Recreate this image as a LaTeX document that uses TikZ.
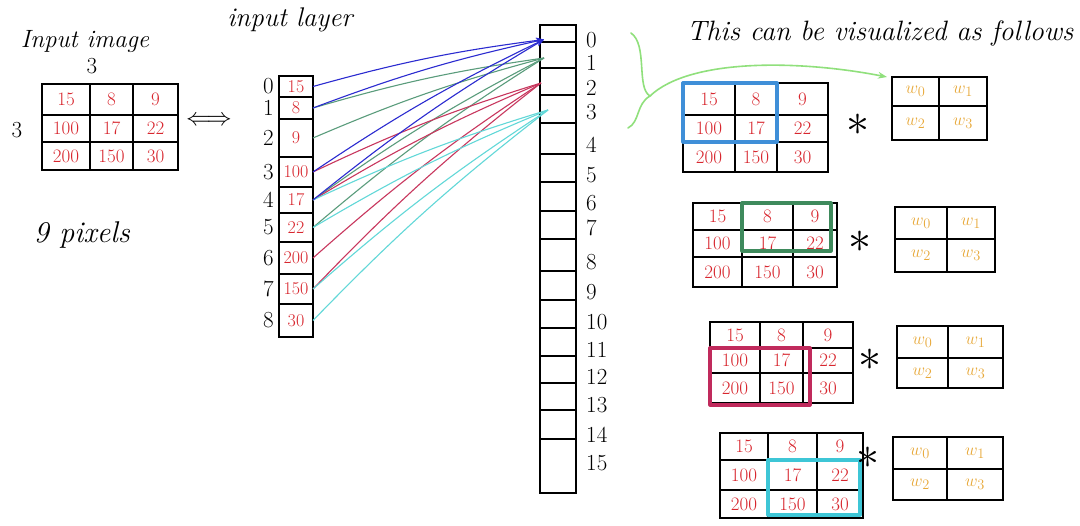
\documentclass[tikz,border=0pt]{standalone}
\usepackage{fontspec}
\usetikzlibrary{calc,arrows.meta}
\definecolor{numred}{HTML}{D8262E}
\definecolor{lblue}{HTML}{2B2BD0}
\definecolor{lgreen}{HTML}{5A9C7C}
\definecolor{lred}{HTML}{C8375E}
\definecolor{lcyan}{HTML}{62D8D8}
\definecolor{hblue}{HTML}{3F8FD8}
\definecolor{hgreen}{HTML}{3E8A5C}
\definecolor{hred}{HTML}{C02A5C}
\definecolor{hcyan}{HTML}{3EC6D6}
\definecolor{brgreen}{HTML}{90E07C}
\definecolor{worange}{HTML}{E8A93A}
\tikzset{
 gridline/.style={line width=1.5pt, black, line cap=round},
 val/.style={text=numred, font=\fontsize{19}{22}\selectfont, inner sep=0pt},
 hand/.style={font=\fontsize{25}{28}\selectfont\itshape, inner sep=0pt},
 idx/.style={font=\fontsize{23}{26}\selectfont, inner sep=0pt},
 incell/.style={draw, line width=1.5pt, minimum width=34pt, inner sep=0pt, outer sep=0pt, text=numred, font=\fontsize{18}{20}\selectfont},
 outcell/.style={draw, line width=1.5pt, minimum width=36pt, inner sep=0pt, outer sep=0pt},
 wlab/.style={text=worange, font=\fontsize{19}{22}\selectfont, inner sep=0pt},
 star/.style={inner sep=0pt},
 con/.style={line width=1.1pt, bend left=4},
 hl/.style={line width=3.2pt, line join=round},
}
\newcommand\bigstar{\scalebox{4.6}{$\ast$}}
\newcommand\pixgrid[9]{%
 \draw[gridline] (#2,#6) rectangle (#5,#9);
 \draw[gridline] (#3,#6) -- (#3,#9) (#4,#6) -- (#4,#9) (#2,#7) -- (#5,#7) (#2,#8) -- (#5,#8);
 \node[val] (#1a) at ({(#2+#3)/2},{(#6+#7)/2}) {15};
 \node[val] (#1b) at ({(#3+#4)/2},{(#6+#7)/2}) {8};
 \node[val] (#1c) at ({(#4+#5)/2},{(#6+#7)/2}) {9};
 \node[val] (#1d) at ({(#2+#3)/2},{(#7+#8)/2}) {100};
 \node[val] (#1e) at ({(#3+#4)/2},{(#7+#8)/2}) {17};
 \node[val] (#1f) at ({(#4+#5)/2},{(#7+#8)/2}) {22};
 \node[val] (#1g) at ({(#2+#3)/2},{(#8+#9)/2}) {200};
 \node[val] (#1h) at ({(#3+#4)/2},{(#8+#9)/2}) {150};
 \node[val] (#1i) at ({(#4+#5)/2},{(#8+#9)/2}) {30};
}
\newcommand\wgrid[7]{%
 \draw[gridline] (#2,#5) rectangle (#4,#7);
 \draw[gridline] (#3,#5) -- (#3,#7) (#2,#6) -- (#4,#6);
 \node[wlab] (#1a) at ({(#2+#3)/2},{(#5+#6)/2}) {$w_0$};
 \node[wlab] (#1b) at ({(#3+#4)/2},{(#5+#6)/2}) {$w_1$};
 \node[wlab] (#1c) at ({(#2+#3)/2},{(#6+#7)/2}) {$w_2$};
 \node[wlab] (#1d) at ({(#3+#4)/2},{(#6+#7)/2}) {$w_3$};
}
\begin{document}
\begin{tikzpicture}[x=1pt,y=-1pt]
\useasboundingbox[fill=white] (0,0) rectangle (1080,526);

% ---- input image
\node[hand] (tin) at (85,42) {Input image};
\node[idx] (th) at (92,66) {3};
\node[idx] (tv) at (17,130) {3};
\node[hand, font=\fontsize{30}{34}\selectfont\itshape] (tpx) at (82,235) {9 pixels};
\pixgrid{p}{42}{90}{133}{178}{84}{115}{142}{170}
\node[font=\fontsize{26}{30}\selectfont, inner sep=0pt] (eq) at (209,121) {$\Longleftrightarrow$};

% ---- input layer
\node[hand, font=\fontsize{27}{30}\selectfont\itshape] (til) at (290,20) {input layer};
\foreach \i/\a/\b/\v in {0/76/97/15, 1/97/119/8, 2/119/157/9, 3/157/187/100, 4/187/213/17, 5/213/242/22, 6/242/274/200, 7/274/304/150, 8/304/337/30}{
  \node[incell, minimum height={(\b-\a)*1pt}] (i\i) at (296,{(\a+\b)/2}) {\v};
  \node[idx, anchor=east] (il\i) at (274,{(\a+\b)/2}) {\i};
}

% ---- output layer
\foreach \i/\a/\b in {0/25/42,1/42/68,2/68/95,3/95/123,4/123/154,5/154/182,6/182/211,7/211/239,8/239/271,9/271/300,10/300/328,11/328/356,12/356/383,13/383/410,14/410/439,15/439/493}{
  \node[outcell, minimum height={(\b-\a)*1pt}] (o\i) at (558,{(\a+\b)/2}) {};
}
\foreach \i/\y in {0/40,1/63,2/88,3/112,4/145,5/175,6/203,7/228,8/262,9/292,10/322,11/350,12/377,13/405,14/435,15/463}{
  \node[idx, anchor=west] (ol\i) at (586,\y) {\i};
}

% ---- connectors
\coordinate (t0) at ($(o0.west)+(4,6)$);
\coordinate (t1) at ($(o1.west)+(4,3)$);
\coordinate (t2) at ($(o2.west)+(1,1.5)$);
\coordinate (t3) at ($(o3.west)+(8,1)$);
\foreach \s in {1,2,4,5}{\draw[con, lgreen] (i\s.east) to (t1);}
\foreach \s in {3,4,6,7}{\draw[con, lred] (i\s.east) to (t2);}
\foreach \s in {4,5,7,8}{\draw[con, lcyan] (i\s.east) to (t3);}
\foreach \s in {0,1,3,4}{\draw[con, lblue, -{Stealth[length=8pt]}] (i\s.east) to (t0);}

% ---- right side
\node[font=\fontsize{28}{32}\selectfont\itshape, inner sep=0pt] (tvis) at (880,34) {This can be visualized as follows};
\coordinate (bt) at (650,96);
\draw[brgreen, line width=1.6pt, line cap=round] (631,33) .. controls (648,45) and (636,88) .. (bt) .. controls (636,104) and (640,122) .. (628,128);

\pixgrid{ga}{683}{735}{777}{828}{83}{115}{142}{172}
\pixgrid{gb}{693}{742}{793}{837}{203}{230}{257}{287}
\pixgrid{gc}{710}{760}{803}{853}{322}{348}{373}{403}
\pixgrid{gd}{720}{768}{817}{863}{433}{460}{490}{518}
\draw[hl, hblue] (683,83) rectangle (777,142);
\draw[hl, hgreen] (742,203) rectangle (831,251);
\draw[hl, hred] (710,348) rectangle (810,405);
\draw[hl, hcyan] (768,460) rectangle (860,515);

\node[star] (s1) at (858,125) {\bigstar};
\node[star] (s2) at (860,242) {\bigstar};
\node[star] (s3) at (870,360) {\bigstar};
\node[star] (s4) at (868,458) {\bigstar};

\wgrid{wa}{892}{939}{987}{77}{106}{140}
\wgrid{wb}{895}{947}{995}{207}{239}{272}
\wgrid{wc}{897}{948}{1003}{326}{358}{388}
\wgrid{wd}{893}{947}{1003}{437}{469}{500}

\coordinate (wt) at (887,77);
\draw[brgreen, line width=1.6pt, -{Stealth[length=9pt]}] (bt) .. controls (690,58) and (800,60) .. (wt);
\end{tikzpicture}
\end{document}
